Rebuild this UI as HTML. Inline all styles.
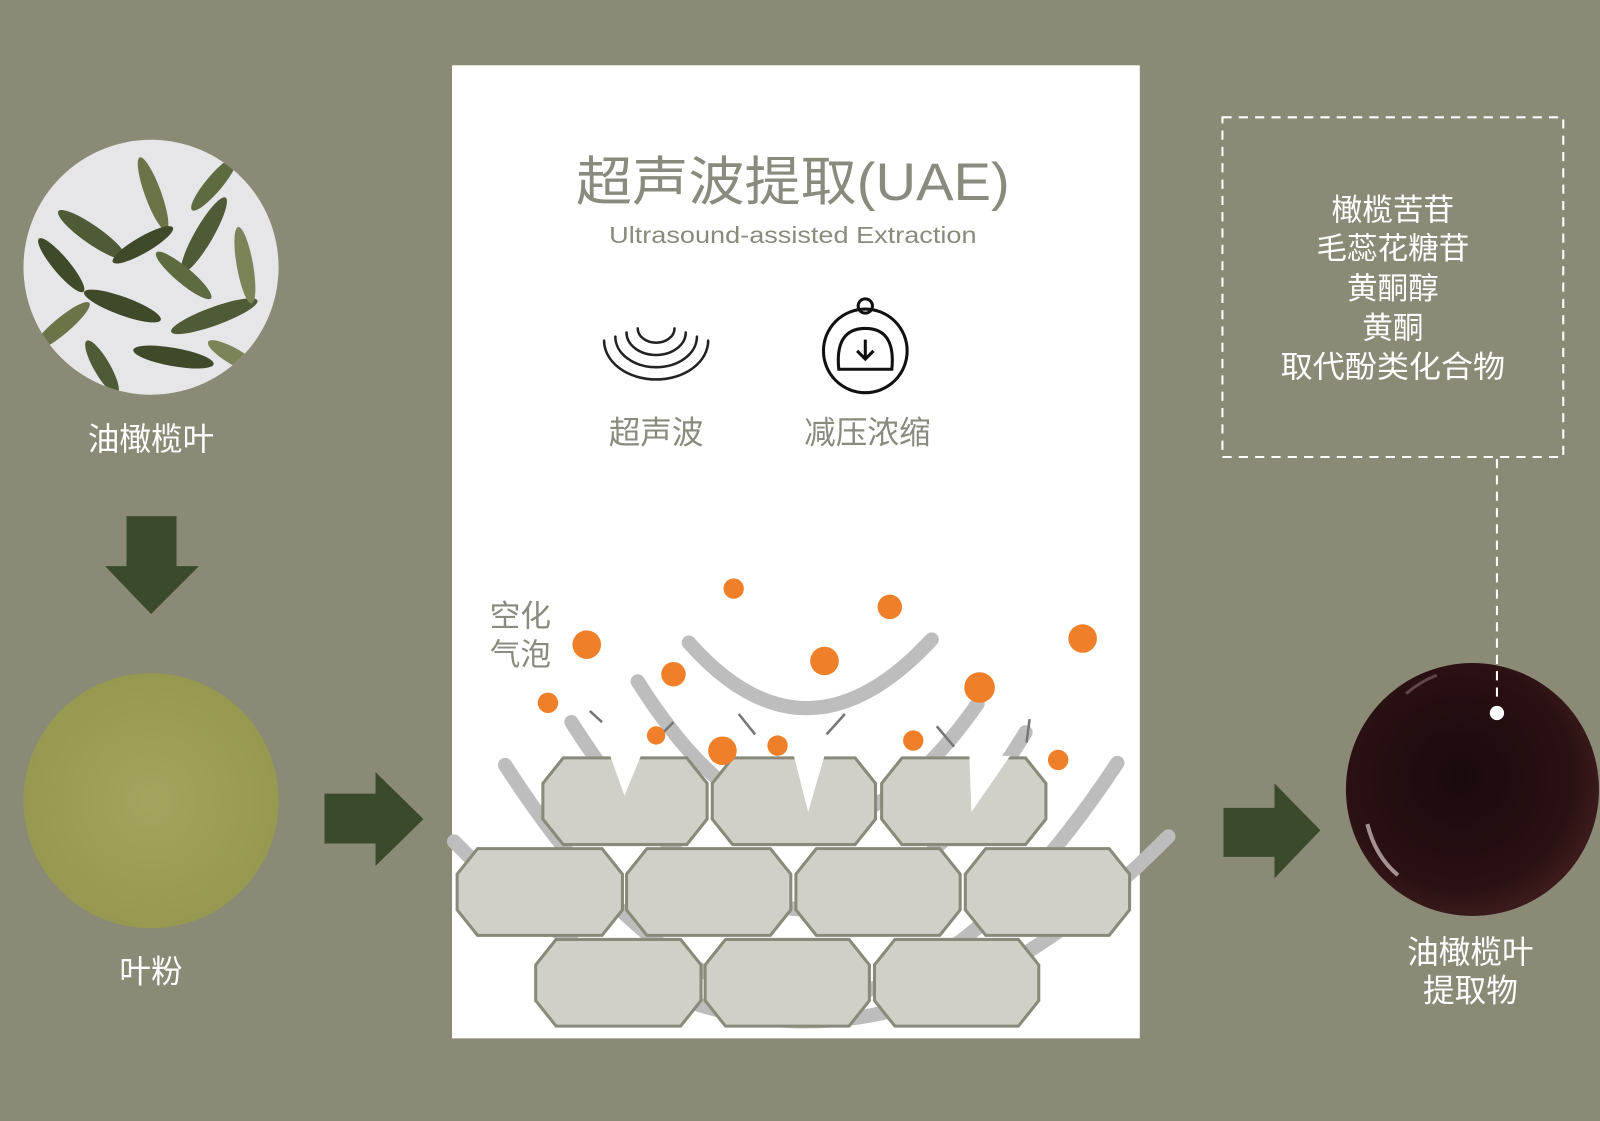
<!DOCTYPE html>
<html><head><meta charset="utf-8"><style>
html,body{margin:0;padding:0;background:#8b8a76;}
svg{display:block}
text{font-family:"Liberation Sans","Noto Sans CJK SC",sans-serif;}
</style></head><body>
<svg width="1600" height="1121" viewBox="0 0 1568 1099" preserveAspectRatio="none" xmlns="http://www.w3.org/2000/svg">
<rect width="1568" height="1099" fill="#8b8a76"/>
<defs>
<clipPath id="c1"><circle cx="148" cy="262" r="125"/></clipPath>
<radialGradient id="pw" cx="50%" cy="50%" r="50%"><stop offset="0" stop-color="#a4a55e"/><stop offset="1" stop-color="#96994f"/></radialGradient>
<radialGradient id="dk" cx="45%" cy="45%" r="55%"><stop offset="0" stop-color="#1a0a0c"/><stop offset="0.8" stop-color="#2a1013"/><stop offset="1" stop-color="#3a1a1a"/></radialGradient>
</defs>
<!-- leaf circle -->
<circle cx="148" cy="262" r="125" fill="#e6e6e8"/>
<g clip-path="url(#c1)" fill="#4f5a36">
<ellipse cx="90" cy="230" rx="40" ry="9" transform="rotate(35 90 230)"/>
<ellipse cx="150" cy="190" rx="38" ry="8" transform="rotate(70 150 190)" fill="#6b7448"/>
<ellipse cx="200" cy="230" rx="42" ry="9" transform="rotate(-60 200 230)"/>
<ellipse cx="120" cy="300" rx="40" ry="9" transform="rotate(20 120 300)" fill="#3f4a2a"/>
<ellipse cx="210" cy="310" rx="45" ry="9" transform="rotate(-20 210 310)"/>
<ellipse cx="60" cy="320" rx="36" ry="8" transform="rotate(-40 60 320)" fill="#6b7448"/>
<ellipse cx="170" cy="350" rx="40" ry="9" transform="rotate(10 170 350)" fill="#3f4a2a"/>
<ellipse cx="240" cy="260" rx="38" ry="8" transform="rotate(80 240 260)" fill="#7a8458"/>
<ellipse cx="100" cy="360" rx="30" ry="8" transform="rotate(60 100 360)"/>
<ellipse cx="180" cy="270" rx="35" ry="8" transform="rotate(40 180 270)" fill="#5e6a40"/>
<ellipse cx="60" cy="260" rx="34" ry="8" transform="rotate(50 60 260)" fill="#3f4a2a"/>
<ellipse cx="210" cy="180" rx="34" ry="8" transform="rotate(-50 210 180)" fill="#5e6a40"/>
<ellipse cx="140" cy="240" rx="34" ry="8" transform="rotate(-30 140 240)" fill="#3f4a2a"/>
<ellipse cx="230" cy="350" rx="30" ry="8" transform="rotate(30 230 350)" fill="#7a8458"/>
</g>
<text x="148" y="441" font-size="31" fill="#fff" text-anchor="middle">油橄榄叶</text>
<!-- down arrow -->
<polygon points="124,506 173,506 173,555 195,555 148,602 103,555 124,555" fill="#3c4a2c"/>
<!-- powder -->
<circle cx="148" cy="785" r="125" fill="url(#pw)"/>
<text x="148" y="963" font-size="31" fill="#fff" text-anchor="middle">叶粉</text>
<!-- arrows right -->
<polygon points="318,778 368,778 368,757 415,803 368,849 368,827 318,827" fill="#3c4a2c"/>
<polygon points="1199,792 1249,792 1249,768 1294,814 1249,861 1249,840 1199,840" fill="#3c4a2c"/>
<!-- panel -->
<rect x="443" y="64" width="674" height="954" fill="#fff"/>
<text x="777" y="196" font-size="52" fill="#8a8a7e" text-anchor="middle" textLength="425" lengthAdjust="spacingAndGlyphs">超声波提取(UAE)</text>
<text x="777" y="238" font-size="23" fill="#8a8a7e" text-anchor="middle" textLength="360" lengthAdjust="spacingAndGlyphs">Ultrasound-assisted Extraction</text>
<!-- wave icon -->
<g fill="none" stroke="#222" stroke-width="2.5" stroke-linecap="round">
<path d="M625,322 A18,14 0 0 0 661,322"/>
<path d="M614,326 A29,22 0 0 0 672,326"/>
<path d="M603,330 A40,30 0 0 0 683,330"/>
<path d="M592,334 A51,38 0 0 0 694,334"/>
</g>
<!-- clock icon -->
<g fill="none" stroke="#111" stroke-width="3">
<circle cx="848" cy="344" r="41"/>
<circle cx="848" cy="300" r="7"/>
<path d="M822,362 Q818,322 848,322 Q878,322 874,362 Z"/>
<path d="M848,333 V352 M840,344 L848,352 L856,344"/>
</g>
<text x="643" y="435" font-size="31" fill="#8a8a7e" text-anchor="middle">超声波</text>
<text x="850" y="435" font-size="31" fill="#8a8a7e" text-anchor="middle">减压浓缩</text>
<text x="480" y="614" font-size="30" fill="#8a8a80">空化</text>
<text x="480" y="652" font-size="30" fill="#8a8a80">气泡</text>
<!-- arcs -->
<g fill="none" stroke="#bdbdbd" stroke-width="14" stroke-linecap="round">
<path d="M675,630 Q790,760 913,627"/>
<path d="M625,668 Q790,930 958,690"/>
<path d="M560,708 Q790,1070 1005,718"/>
<path d="M495,750 Q790,1210 1095,748"/>
<path d="M445,825 Q790,1180 1145,820"/>
</g>
<!-- cells -->
<g fill="#d0cfc8" stroke="#8a8a7a" stroke-width="3">
<polygon points="552,743 673,743 693,768 693,803 673,828 552,828 532,803 532,768"/>
<polygon points="718,743 838,743 858,768 858,803 838,828 718,828 698,803 698,768"/>
<polygon points="884,743 1005,743 1025,768 1025,803 1005,828 884,828 864,803 864,768"/>
<polygon points="468,832 590,832 610,857 610,892 590,917 468,917 448,892 448,857"/>
<polygon points="634,832 755,832 775,857 775,892 755,917 634,917 614,892 614,857"/>
<polygon points="800,832 921,832 941,857 941,892 921,917 800,917 780,892 780,857"/>
<polygon points="966,832 1087,832 1107,857 1107,892 1087,917 966,917 946,892 946,857"/>
<polygon points="545,921 667,921 687,946 687,981 667,1006 545,1006 525,981 525,946"/>
<polygon points="711,921 832,921 852,946 852,981 832,1006 711,1006 691,981 691,946"/>
<polygon points="877,921 998,921 1018,946 1018,981 998,1006 877,1006 857,981 857,946"/>
</g>
<g fill="#fff">
<polygon points="598,741 628,741 612,780"/>
<polygon points="778,741 808,741 792,796"/>
<polygon points="950,741 990,741 952,796"/>
</g>
<!-- small dashes -->
<g stroke="#777" stroke-width="2.5">
<line x1="578" y1="697" x2="590" y2="708"/>
<line x1="724" y1="700" x2="740" y2="720"/>
<line x1="810" y1="720" x2="828" y2="700"/>
<line x1="918" y1="712" x2="935" y2="732"/>
<line x1="1009" y1="705" x2="1006" y2="728"/>
<line x1="650" y1="718" x2="660" y2="708"/>
</g>
<!-- bubbles -->
<g fill="#f07f2a">
<circle cx="575" cy="632" r="14"/><circle cx="660" cy="661" r="12"/><circle cx="537" cy="689" r="10"/>
<circle cx="643" cy="721" r="9"/><circle cx="708" cy="736" r="14"/><circle cx="762" cy="731" r="10"/>
<circle cx="719" cy="577" r="10"/><circle cx="872" cy="595" r="12"/><circle cx="808" cy="648" r="14"/>
<circle cx="960" cy="674" r="15"/><circle cx="1061" cy="626" r="14"/><circle cx="895" cy="726" r="10"/>
<circle cx="1037" cy="745" r="10"/>
</g>
<!-- dashed box -->
<rect x="1198" y="115" width="334" height="333" fill="none" stroke="#fff" stroke-width="2" stroke-dasharray="9,7"/>
<g font-size="30" fill="#fff" text-anchor="middle">
<text x="1365" y="216">橄榄苦苷</text>
<text x="1365" y="254">毛蕊花糖苷</text>
<text x="1365" y="293">黄酮醇</text>
<text x="1365" y="332">黄酮</text>
<text x="1365" y="370" textLength="220" lengthAdjust="spacingAndGlyphs">取代酚类化合物</text>
</g>
<!-- dark circle -->
<circle cx="1443" cy="774" r="124" fill="url(#dk)"/>
<path d="M1340,808 Q1348,840 1370,858" stroke="#d8c8c8" stroke-width="4" fill="none" opacity="0.7"/>
<path d="M1378,680 Q1392,668 1408,662" stroke="#8a6a6a" stroke-width="3" fill="none" opacity="0.6"/>
<line x1="1467" y1="450" x2="1467" y2="690" stroke="#fff" stroke-width="2" stroke-dasharray="9,7"/>
<circle cx="1467" cy="699" r="7" fill="#fff"/>
<text x="1441" y="944" font-size="31" fill="#fff" text-anchor="middle">油橄榄叶</text>
<text x="1441" y="982" font-size="31" fill="#fff" text-anchor="middle">提取物</text>
</svg>
</body></html>
